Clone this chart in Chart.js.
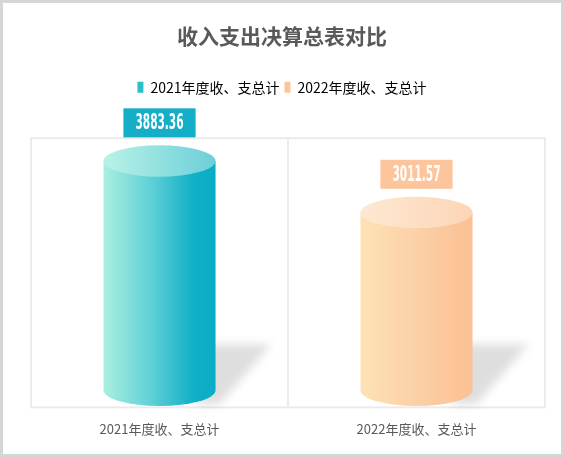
<!DOCTYPE html>
<html>
<head>
<meta charset="utf-8">
<script src="https://cdn.jsdelivr.net/npm/chart.js@4.4.0/dist/chart.umd.min.js"></script>
<style>
  html, body { margin: 0; padding: 0; background: #fff; }
  #wrap { position: relative; width: 564px; height: 457px; }
</style>
</head>
<body>
<div id="wrap"><canvas id="chart"></canvas></div>
<script>
const categories = ['2021年度收、支总计', '2022年度收、支总计'];
const totals = [3883.36, 3011.57];
const yRange = [-290, 4270]; // value axis is hidden

const bodyStops = [
  [[0, '#a9f0e0'], [0.45, '#5bced6'], [0.8, '#10b0c7'], [1, '#0aabc5']],
  [[0, '#fde2b6'], [0.5, '#fcd0a6'], [1, '#fbc093']]
];
const topStops = [
  [[0, '#b9f2e6'], [1, '#6ccfd9']],
  [[0, '#fde8d2'], [1, '#fcd5b7']]
];
const labelFill = ['#14aec6', '#fcc59b'];
const legendColors = ['#2bbfcb', '#fcc59c'];

const textColor = '#595959';
const cjk = "'Noto Sans CJK SC', 'Noto Sans', sans-serif";

function grad(ctx, x0, x1, stops) {
  const g = ctx.createLinearGradient(x0, 0, x1, 0);
  stops.forEach(s => g.addColorStop(s[0], s[1]));
  return g;
}

const cylinders = {
  id: 'cylinders',
  beforeLayout(chart) {
    // extra room between legend and plot
    const lg = chart.legend;
    if (lg && !lg._padded) {
      const fit = lg.fit;
      lg.fit = function () { fit.call(this); this.height += 34; };
      lg._padded = true;
    }
  },
  beforeDraw(chart) {
    const ctx = chart.ctx;
    ctx.save();
    ctx.strokeStyle = '#d6d6d6';
    ctx.lineWidth = 3;
    ctx.strokeRect(1.5, 1.5, chart.width - 3, chart.height - 3);
    ctx.restore();
  },
  beforeDatasetsDraw(chart) {
    const {ctx, chartArea: a} = chart;
    ctx.save();
    ctx.strokeStyle = '#ebebeb';
    ctx.lineWidth = 2;
    ctx.strokeRect(a.left, a.top, a.right - a.left, a.bottom - a.top);
    ctx.restore();
  },
  afterDatasetsDraw(chart) {
    const ctx = chart.ctx;
    const meta = chart.getDatasetMeta(0);
    meta.data.forEach((el, i) => {
      const cx = el.x, rx = el.width / 2, x0 = cx - rx, x1 = cx + rx;
      const top = el.y, base = el.base;
      const ry = rx * 0.28;

      // soft shadow
      ctx.save();
      ctx.filter = 'blur(5px)';
      ctx.fillStyle = 'rgba(0,0,0,0.13)';
      ctx.beginPath();
      ctx.moveTo(x1 - 20, base - 46);
      ctx.lineTo(x1 + 56, base - 46);
      ctx.lineTo(x1 + 4, base + 14);
      ctx.lineTo(x1 - 20, base + 14);
      ctx.closePath();
      ctx.fill();
      ctx.restore();

      // body
      ctx.save();
      ctx.fillStyle = grad(ctx, x0, x1, bodyStops[i]);
      ctx.beginPath();
      ctx.moveTo(x0, top);
      ctx.lineTo(x0, base);
      ctx.ellipse(cx, base, rx, ry, 0, Math.PI, 0, true);
      ctx.lineTo(x1, top);
      ctx.closePath();
      ctx.fill();

      // top cap
      ctx.fillStyle = grad(ctx, x0, x1, topStops[i]);
      ctx.beginPath();
      ctx.ellipse(cx, top, rx, ry, 0, 0, Math.PI * 2);
      ctx.fill();
      ctx.restore();

      // value label
      const text = totals[i].toFixed(2);
      const sx = 0.56;
      ctx.save();
      ctx.font = 'bold 21px "DejaVu Sans Condensed", "DejaVu Sans", sans-serif';
      const tw = ctx.measureText(text).width * sx;
      const bw = tw + 24, bh = 29;
      const by = top - ry - 8 - bh;
      ctx.fillStyle = labelFill[i];
      ctx.fillRect(cx - bw / 2, by, bw, bh);
      ctx.translate(cx, by + bh / 2 + 1);
      ctx.scale(sx, 1);
      ctx.fillStyle = '#fff';
      ctx.textAlign = 'center';
      ctx.textBaseline = 'middle';
      ctx.fillText(text, 0, 0);
      ctx.restore();
    });
  }
};

new Chart(document.getElementById('chart'), {
  type: 'bar',
  data: {
    labels: categories,
    datasets: [{
      data: totals,
      backgroundColor: 'rgba(0,0,0,0)',
      borderWidth: 0,
      categoryPercentage: 1,
      barPercentage: 0.436
    }]
  },
  options: {
    responsive: true,
    maintainAspectRatio: false,
    animation: false,
    events: [],
    layout: { padding: { top: 10, left: 19, right: 19, bottom: 6 } },
    plugins: {
      title: {
        display: true,
        text: '收入支出决算总表对比',
        color: textColor,
        font: { family: cjk, size: 21, weight: 'bold' },
        padding: { top: 13, bottom: 27 }
      },
      legend: {
        display: true,
        labels: {
          color: textColor,
          font: { family: cjk, size: 14 },
          boxWidth: 6,
          boxHeight: 11,
          padding: 5,
          generateLabels: () => categories.map((c, i) => ({
            text: c,
            fillStyle: legendColors[i],
            strokeStyle: legendColors[i],
            lineWidth: 0,
            hidden: false,
            index: i
          }))
        }
      },
      tooltip: { enabled: false }
    },
    scales: {
      x: {
        offset: true,
        grid: { offset: true, color: '#ebebeb', lineWidth: 2, drawTicks: false },
        border: { display: false },
        ticks: { color: textColor, padding: 14, font: { family: cjk, size: 13 } }
      },
      y: {
        min: yRange[0],
        max: yRange[1],
        grid: { display: false },
        border: { display: false },
        ticks: { display: false },
        afterFit(scale) { scale.width = 12; }
      }
    }
  },
  plugins: [cylinders]
});
</script>
</body>
</html>
